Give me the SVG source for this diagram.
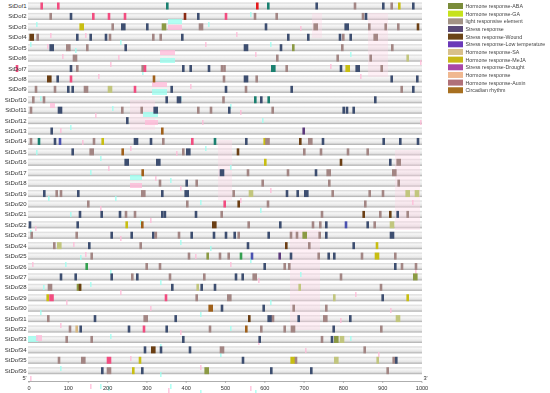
<svg xmlns="http://www.w3.org/2000/svg" xmlns:xlink="http://www.w3.org/1999/xlink" width="550" height="393" viewBox="0 0 550 393">
<style>
text{font-family:"Liberation Sans",Arial,sans-serif;fill:#333}
.lbl{font-size:6px;text-anchor:end}
.ax{font-size:5.6px;text-anchor:middle}
.lg{font-size:5.3px;fill:#444}
.bar{fill:url(#bg)}
.p{fill:#f24d80}.r{fill:#e41a1c}.t{fill:#1a8070}.s{fill:#3d4e70}.m{fill:#a38684}.b{fill:#6b3f14}
.y{fill:#c8be12}.lo{fill:#c2c67e}.og{fill:#8c9a44}.bp{fill:#4a52b0}.pu{fill:#5c3a7c}.bo{fill:#a0601a}
.tn{fill:#d8b880}.g{fill:#34a050}.rb{fill:#8a2a12}
.fp{fill:#ffbcd9;opacity:.8}.fc{fill:#9ffff0;opacity:.8}
.col{fill:#ffd3e4;opacity:.35}
</style>
<defs>
<linearGradient id="bg" x1="0" y1="0" x2="0" y2="1">
<stop offset="0" stop-color="#d6d6d6"/><stop offset=".3" stop-color="#f6f6f6"/><stop offset=".7" stop-color="#e6e6e6"/><stop offset="1" stop-color="#a9a9a9"/>
</linearGradient>
<rect id="n" x="-1.3" y="-3.5" width="2.6" height="7"/>
<rect id="w" x="-2.3" y="-3.5" width="4.6" height="7"/>
<rect id="f" x="0" y="0" width="1.6" height="5"/>
</defs>
<rect width="550" height="393" fill="#fff"/>

<g id="bars">
<rect class="bar" x="28" y="2.5" width="394" height="7"/>
<rect class="bar" x="28" y="12.92" width="394" height="7"/>
<rect class="bar" x="28" y="23.34" width="394" height="7"/>
<rect class="bar" x="28" y="33.76" width="394" height="7"/>
<rect class="bar" x="28" y="44.18" width="394" height="7"/>
<rect class="bar" x="28" y="54.6" width="394" height="7"/>
<rect class="bar" x="28" y="65.02" width="394" height="7"/>
<rect class="bar" x="28" y="75.44" width="394" height="7"/>
<rect class="bar" x="28" y="85.86" width="394" height="7"/>
<rect class="bar" x="28" y="96.28" width="394" height="7"/>
<rect class="bar" x="28" y="106.7" width="394" height="7"/>
<rect class="bar" x="28" y="117.12" width="394" height="7"/>
<rect class="bar" x="28" y="127.54" width="394" height="7"/>
<rect class="bar" x="28" y="137.96" width="394" height="7"/>
<rect class="bar" x="28" y="148.38" width="394" height="7"/>
<rect class="bar" x="28" y="158.8" width="394" height="7"/>
<rect class="bar" x="28" y="169.22" width="394" height="7"/>
<rect class="bar" x="28" y="179.64" width="394" height="7"/>
<rect class="bar" x="28" y="190.06" width="394" height="7"/>
<rect class="bar" x="28" y="200.48" width="394" height="7"/>
<rect class="bar" x="28" y="210.9" width="394" height="7"/>
<rect class="bar" x="28" y="221.32" width="394" height="7"/>
<rect class="bar" x="28" y="231.74" width="394" height="7"/>
<rect class="bar" x="28" y="242.16" width="394" height="7"/>
<rect class="bar" x="28" y="252.58" width="394" height="7"/>
<rect class="bar" x="28" y="263" width="394" height="7"/>
<rect class="bar" x="28" y="273.42" width="394" height="7"/>
<rect class="bar" x="28" y="283.84" width="394" height="7"/>
<rect class="bar" x="28" y="294.26" width="394" height="7"/>
<rect class="bar" x="28" y="304.68" width="394" height="7"/>
<rect class="bar" x="28" y="315.1" width="394" height="7"/>
<rect class="bar" x="28" y="325.52" width="394" height="7"/>
<rect class="bar" x="28" y="335.94" width="394" height="7"/>
<rect class="bar" x="28" y="346.36" width="394" height="7"/>
<rect class="bar" x="28" y="356.78" width="394" height="7"/>
<rect class="bar" x="28" y="367.2" width="394" height="7"/>
</g>

<g id="faint">
<rect class="col" x="218" y="140" width="14" height="60"/>
<rect class="col" x="290" y="230" width="30" height="100"/>
<rect class="col" x="395" y="150" width="25" height="80"/>
<rect class="col" x="130" y="100" width="25" height="30"/>
<rect class="col" x="368" y="13" width="20" height="64"/>
<rect class="col" x="312" y="13" width="10" height="25"/>
<rect class="fp" x="160" y="50" width="15" height="5"/>
<rect class="fc" x="160" y="58" width="15" height="5"/>
<rect class="fp" x="152" y="82" width="15" height="5"/>
<rect class="fc" x="152" y="89" width="15" height="6"/>
<rect class="fc" x="168" y="19" width="14" height="5"/>
<rect class="fp" x="168" y="25" width="14" height="5"/>
<rect class="fp" x="50" y="103" width="5" height="5"/>
<rect class="fc" x="143" y="112" width="15" height="5"/>
<rect class="fp" x="145" y="120" width="13" height="5"/>
<rect class="fc" x="130" y="175" width="12" height="5"/>
<rect class="fp" x="130" y="183" width="12" height="5"/>
<rect class="fc" x="28" y="336" width="10" height="6"/>
<rect class="fp" x="36" y="335" width="6" height="6"/>
<g class="fp">
<use href="#f" x="50" y="33"/><use href="#f" x="85" y="33"/><use href="#f" x="47" y="44"/><use href="#f" x="62" y="54"/><use href="#f" x="110" y="62"/><use href="#f" x="118" y="55"/><use href="#f" x="98" y="74"/><use href="#f" x="190" y="84"/><use href="#f" x="205" y="42"/><use href="#f" x="236" y="32"/><use href="#f" x="255" y="52"/><use href="#f" x="300" y="26"/><use href="#f" x="330" y="64"/><use href="#f" x="360" y="74"/><use href="#f" x="240" y="110"/><use href="#f" x="95" y="113"/><use href="#f" x="202" y="120"/><use href="#f" x="60" y="128"/><use href="#f" x="82" y="140"/><use href="#f" x="130" y="146"/><use href="#f" x="176" y="151"/><use href="#f" x="108" y="166"/><use href="#f" x="155" y="176"/><use href="#f" x="180" y="186"/><use href="#f" x="240" y="198"/><use href="#f" x="270" y="188"/><use href="#f" x="100" y="206"/><use href="#f" x="150" y="218"/><use href="#f" x="35" y="226"/><use href="#f" x="120" y="236"/><use href="#f" x="73" y="242"/><use href="#f" x="85" y="252"/><use href="#f" x="195" y="254"/><use href="#f" x="230" y="262"/><use href="#f" x="32" y="262"/><use href="#f" x="258" y="278"/><use href="#f" x="120" y="290"/><use href="#f" x="355" y="292"/><use href="#f" x="66" y="300"/><use href="#f" x="150" y="306"/><use href="#f" x="390" y="308"/><use href="#f" x="340" y="318"/><use href="#f" x="60" y="323"/><use href="#f" x="180" y="330"/><use href="#f" x="258" y="340"/><use href="#f" x="305" y="348"/><use href="#f" x="378" y="352"/><use href="#f" x="130" y="356"/><use href="#f" x="200" y="365"/><use href="#f" x="30" y="376"/><use href="#f" x="90" y="384"/><use href="#f" x="168" y="388"/><use href="#f" x="250" y="386"/><use href="#f" x="420" y="60"/><use href="#f" x="420" y="120"/><use href="#f" x="412" y="200"/><use href="#f" x="415" y="270"/>
</g>
<g class="fc">
<use href="#f" x="36" y="22"/><use href="#f" x="30" y="42"/><use href="#f" x="75" y="48"/><use href="#f" x="120" y="40"/><use href="#f" x="208" y="22"/><use href="#f" x="250" y="12"/><use href="#f" x="270" y="42"/><use href="#f" x="350" y="52"/><use href="#f" x="142" y="70"/><use href="#f" x="180" y="96"/><use href="#f" x="40" y="96"/><use href="#f" x="112" y="106"/><use href="#f" x="230" y="104"/><use href="#f" x="262" y="118"/><use href="#f" x="70" y="125"/><use href="#f" x="36" y="150"/><use href="#f" x="205" y="146"/><use href="#f" x="100" y="156"/><use href="#f" x="90" y="170"/><use href="#f" x="230" y="165"/><use href="#f" x="170" y="178"/><use href="#f" x="48" y="196"/><use href="#f" x="115" y="196"/><use href="#f" x="200" y="200"/><use href="#f" x="260" y="208"/><use href="#f" x="70" y="212"/><use href="#f" x="140" y="220"/><use href="#f" x="30" y="230"/><use href="#f" x="180" y="240"/><use href="#f" x="210" y="246"/><use href="#f" x="80" y="255"/><use href="#f" x="250" y="258"/><use href="#f" x="65" y="262"/><use href="#f" x="110" y="270"/><use href="#f" x="300" y="272"/><use href="#f" x="43" y="285"/><use href="#f" x="90" y="282"/><use href="#f" x="160" y="280"/><use href="#f" x="270" y="300"/><use href="#f" x="200" y="312"/><use href="#f" x="40" y="310"/><use href="#f" x="230" y="326"/><use href="#f" x="110" y="334"/><use href="#f" x="160" y="344"/><use href="#f" x="350" y="336"/><use href="#f" x="220" y="352"/><use href="#f" x="60" y="366"/><use href="#f" x="160" y="372"/><use href="#f" x="100" y="384"/><use href="#f" x="108" y="386"/><use href="#f" x="170" y="384"/><use href="#f" x="200" y="390"/><use href="#f" x="255" y="390"/>
</g>
</g>

<g id="StDof1" transform="translate(0,6)"><text class="lbl" x="26.5" y="2">StDof1</text>
<use href="#n" x="41.7" class="p"/><use href="#n" x="58.3" class="p"/><use href="#n" x="167.3" class="t"/><use href="#n" x="257.3" class="r"/><use href="#n" x="268.3" class="t"/><use href="#n" x="316.7" class="s"/><use href="#n" x="355" class="m"/><use href="#n" x="383.3" class="s"/><use href="#n" x="391.7" class="m"/><use href="#n" x="399.3" class="y"/><use href="#n" x="413.3" class="s"/></g>
<g id="StDof2" transform="translate(0,16.42)"><text class="lbl" x="26.5" y="2">StDof2</text>
<use href="#n" x="50.7" class="m"/><use href="#n" x="71" class="s"/><use href="#n" x="93.3" class="p"/><use href="#n" x="109" class="p"/><use href="#n" x="125" class="p"/><use href="#n" x="185" class="rb"/><use href="#n" x="198.3" class="s"/><use href="#n" x="226" class="p"/><use href="#n" x="255" class="m"/><use href="#n" x="276.7" class="m"/><use href="#n" x="363" class="m"/><use href="#n" x="366" class="s"/></g>
<g id="StDof3" transform="translate(0,26.84)"><text class="lbl" x="26.5" y="2">StDof3</text>
<use href="#w" x="81.7" class="y"/><use href="#n" x="112.7" class="m"/><use href="#w" x="123.3" class="s"/><use href="#n" x="147.3" class="s"/><use href="#w" x="164" class="og"/><use href="#w" x="201" class="m"/><use href="#n" x="266" class="s"/><use href="#w" x="315.7" class="m"/><use href="#w" x="346.7" class="s"/><use href="#n" x="369.3" class="m"/><use href="#n" x="385.7" class="m"/><use href="#n" x="398.3" class="m"/><use href="#n" x="418" class="b"/></g>
<g id="StDof4" transform="translate(0,37.26)"><text class="lbl" x="26.5" y="2">StDof4</text>
<use href="#w" x="31.7" class="b"/><use href="#n" x="37.7" class="m"/><use href="#n" x="77.3" class="s"/><use href="#n" x="90.7" class="s"/><use href="#n" x="106" class="s"/><use href="#n" x="110" class="m"/><use href="#n" x="153.3" class="m"/><use href="#n" x="160.7" class="m"/><use href="#n" x="182.3" class="s"/><use href="#n" x="288.3" class="s"/><use href="#n" x="308.3" class="s"/><use href="#n" x="340" class="s"/><use href="#n" x="343.3" class="m"/><use href="#n" x="350.7" class="s"/><use href="#w" x="375.7" class="m"/></g>
<g id="StDof5" transform="translate(0,47.68)"><text class="lbl" x="26.5" y="2">StDof5</text>
<use href="#w" x="51.7" class="s"/><use href="#w" x="68.3" class="m"/><use href="#n" x="87.3" class="m"/><use href="#n" x="125.7" class="s"/><use href="#w" x="246" class="s"/><use href="#n" x="281" class="s"/><use href="#n" x="293.3" class="og"/><use href="#n" x="342.3" class="m"/><use href="#n" x="392.3" class="m"/></g>
<g id="StDof6" transform="translate(0,58.1)"><text class="lbl" x="26.5" y="2">StDof6</text>
<use href="#w" x="75" class="m"/><use href="#n" x="277.3" class="m"/><use href="#n" x="337.7" class="m"/><use href="#n" x="370.7" class="m"/><use href="#n" x="407.7" class="lo"/></g>
<g id="StDof7" transform="translate(0,68.52)"><use href="#n" x="17" class="p"/><text class="lbl" x="26.5" y="2">StDof7</text>
<use href="#n" x="71" class="s"/><use href="#n" x="77.3" class="m"/><use href="#n" x="142.7" class="m"/><use href="#n" x="145" class="p"/><use href="#n" x="183.3" class="s"/><use href="#n" x="190.7" class="s"/><use href="#n" x="209" class="s"/><use href="#n" x="222" class="m"/><use href="#n" x="224.5" class="m"/><use href="#w" x="273.3" class="t"/><use href="#n" x="286.7" class="m"/><use href="#n" x="341" class="s"/><use href="#w" x="347.7" class="y"/><use href="#w" x="357.7" class="s"/><use href="#n" x="381.7" class="m"/></g>
<g id="StDof8" transform="translate(0,78.94)"><text class="lbl" x="26.5" y="2">StDof8</text>
<use href="#w" x="49.3" class="b"/><use href="#n" x="57.7" class="s"/><use href="#n" x="71" class="p"/><use href="#n" x="154" class="bo"/><use href="#n" x="224" class="m"/><use href="#w" x="246" class="s"/><use href="#n" x="256.7" class="m"/><use href="#n" x="391.7" class="s"/><use href="#n" x="417.3" class="s"/></g>
<g id="StDof9" transform="translate(0,89.36)"><text class="lbl" x="26.5" y="2">StDof9</text>
<use href="#n" x="36" class="m"/><use href="#n" x="55" class="m"/><use href="#n" x="68.3" class="s"/><use href="#n" x="72.7" class="s"/><use href="#w" x="86" class="m"/><use href="#w" x="110" class="lo"/><use href="#n" x="135" class="p"/><use href="#n" x="171.7" class="s"/><use href="#n" x="226" class="s"/><use href="#n" x="246" class="m"/><use href="#n" x="291.7" class="s"/><use href="#n" x="401.7" class="m"/><use href="#n" x="413.3" class="s"/></g>
<g id="StDof10" transform="translate(0,99.78)"><text class="lbl" x="26.5" y="2">StDof10</text>
<use href="#n" x="33.3" class="m"/><use href="#n" x="44" class="m"/><use href="#n" x="166.7" class="s"/><use href="#w" x="179" class="s"/><use href="#n" x="223.5" class="m"/><use href="#n" x="255.3" class="t"/><use href="#n" x="261.3" class="s"/><use href="#n" x="268.7" class="t"/><use href="#n" x="375.3" class="s"/></g>
<g id="StDof11" transform="translate(0,110.2)"><text class="lbl" x="26.5" y="2">StDof11</text>
<use href="#n" x="31" class="m"/><use href="#w" x="60" class="s"/><use href="#n" x="122.3" class="m"/><use href="#n" x="141.7" class="m"/><use href="#w" x="155.7" class="s"/><use href="#n" x="198.3" class="m"/><use href="#n" x="211" class="m"/><use href="#n" x="229.3" class="s"/><use href="#n" x="272.7" class="m"/><use href="#n" x="343.7" class="s"/><use href="#n" x="347" class="s"/><use href="#n" x="353.7" class="s"/></g>
<g id="StDof12" transform="translate(0,120.62)"><text class="lbl" x="26.5" y="2">StDof12</text>
<use href="#n" x="127.3" class="s"/></g>
<g id="StDof13" transform="translate(0,131.04)"><text class="lbl" x="26.5" y="2">StDof13</text>
<use href="#n" x="51.7" class="s"/><use href="#n" x="162.3" class="bo"/><use href="#n" x="303.7" class="pu"/></g>
<g id="StDof14" transform="translate(0,141.46)"><text class="lbl" x="26.5" y="2">StDof14</text>
<use href="#n" x="31" class="m"/><use href="#n" x="39" class="t"/><use href="#n" x="55" class="s"/><use href="#n" x="60" class="bp"/><use href="#n" x="94" class="m"/><use href="#n" x="102.7" class="y"/><use href="#w" x="136" class="s"/><use href="#n" x="151" class="s"/><use href="#n" x="163.3" class="m"/><use href="#n" x="192.3" class="p"/><use href="#n" x="215" class="t"/><use href="#n" x="246.3" class="s"/><use href="#n" x="264.7" class="y"/><use href="#w" x="267.5" class="m"/><use href="#n" x="300.3" class="b"/><use href="#w" x="310.3" class="m"/><use href="#n" x="323" class="s"/><use href="#n" x="383.7" class="s"/><use href="#n" x="400.3" class="s"/><use href="#n" x="418" class="s"/></g>
<g id="StDof15" transform="translate(0,151.88)"><text class="lbl" x="26.5" y="2">StDof15</text>
<use href="#n" x="72.7" class="s"/><use href="#w" x="91.7" class="m"/><use href="#n" x="122.7" class="bo"/><use href="#n" x="183.3" class="m"/><use href="#w" x="188.3" class="s"/><use href="#n" x="238" class="b"/><use href="#n" x="304.3" class="m"/><use href="#n" x="321" class="m"/><use href="#n" x="348" class="m"/><use href="#n" x="367.7" class="m"/></g>
<g id="StDof16" transform="translate(0,162.3)"><text class="lbl" x="26.5" y="2">StDof16</text>
<use href="#w" x="126.7" class="s"/><use href="#w" x="158.3" class="s"/><use href="#n" x="265.3" class="y"/><use href="#n" x="341" class="b"/><use href="#n" x="390.3" class="s"/><use href="#w" x="398.7" class="m"/></g>
<g id="StDof17" transform="translate(0,172.72)"><text class="lbl" x="26.5" y="2">StDof17</text>
<use href="#n" x="142.7" class="bo"/><use href="#w" x="222" class="s"/><use href="#n" x="248" class="m"/><use href="#n" x="288" class="m"/><use href="#n" x="316" class="s"/><use href="#w" x="328.7" class="m"/><use href="#w" x="394.3" class="m"/></g>
<g id="StDof18" transform="translate(0,183.14)"><text class="lbl" x="26.5" y="2">StDof18</text>
<use href="#n" x="160" class="m"/><use href="#n" x="186.7" class="s"/><use href="#n" x="196.7" class="m"/><use href="#n" x="262.7" class="m"/><use href="#n" x="329.3" class="m"/><use href="#n" x="398.7" class="m"/></g>
<g id="StDof19" transform="translate(0,193.56)"><text class="lbl" x="26.5" y="2">StDof19</text>
<use href="#n" x="44.3" class="s"/><use href="#n" x="56.7" class="m"/><use href="#n" x="61" class="m"/><use href="#n" x="78.3" class="s"/><use href="#w" x="143.3" class="m"/><use href="#n" x="162.3" class="s"/><use href="#w" x="186.7" class="s"/><use href="#n" x="233.7" class="m"/><use href="#w" x="251" class="lo"/><use href="#n" x="287" class="s"/><use href="#n" x="297.7" class="s"/><use href="#w" x="306.3" class="s"/><use href="#n" x="332.7" class="m"/><use href="#n" x="369.7" class="m"/><use href="#n" x="383" class="m"/><use href="#w" x="407.7" class="lo"/><use href="#w" x="417" class="lo"/></g>
<g id="StDof20" transform="translate(0,203.98)"><text class="lbl" x="26.5" y="2">StDof20</text>
<use href="#n" x="88.3" class="m"/><use href="#n" x="187.3" class="m"/><use href="#n" x="224.7" class="p"/><use href="#n" x="238.7" class="b"/><use href="#n" x="268" class="m"/><use href="#n" x="365.3" class="m"/></g>
<g id="StDof21" transform="translate(0,214.4)"><text class="lbl" x="26.5" y="2">StDof21</text>
<use href="#n" x="80" class="s"/><use href="#n" x="101.7" class="s"/><use href="#n" x="120" class="s"/><use href="#n" x="126" class="m"/><use href="#n" x="135" class="m"/><use href="#n" x="162.3" class="s"/><use href="#n" x="164.9" class="s"/><use href="#n" x="196" class="s"/><use href="#n" x="221.7" class="m"/><use href="#n" x="322" class="m"/><use href="#n" x="363.7" class="b"/><use href="#n" x="380.3" class="m"/><use href="#n" x="390.3" class="b"/><use href="#n" x="397.7" class="s"/><use href="#n" x="407.7" class="m"/></g>
<g id="StDof22" transform="translate(0,224.82)"><text class="lbl" x="26.5" y="2">StDof22</text>
<use href="#n" x="30" class="s"/><use href="#n" x="77.7" class="s"/><use href="#n" x="126.7" class="y"/><use href="#n" x="142.3" class="bo"/><use href="#w" x="214.3" class="b"/><use href="#n" x="248.7" class="m"/><use href="#n" x="280.3" class="s"/><use href="#n" x="313" class="m"/><use href="#n" x="320.3" class="m"/><use href="#n" x="326.3" class="s"/><use href="#n" x="346" class="bp"/><use href="#n" x="367.7" class="s"/><use href="#n" x="374.7" class="m"/><use href="#w" x="392" class="lo"/></g>
<g id="StDof23" transform="translate(0,235.24)"><text class="lbl" x="26.5" y="2">StDof23</text>
<use href="#n" x="31.7" class="m"/><use href="#n" x="76.7" class="m"/><use href="#n" x="111.7" class="s"/><use href="#n" x="131.7" class="s"/><use href="#n" x="153.3" class="s"/><use href="#n" x="155.8" class="m"/><use href="#n" x="179" class="m"/><use href="#n" x="191.7" class="s"/><use href="#n" x="214" class="s"/><use href="#n" x="226" class="s"/><use href="#n" x="234.7" class="s"/><use href="#n" x="238.7" class="m"/><use href="#n" x="268.7" class="s"/><use href="#n" x="291" class="m"/><use href="#n" x="297" class="m"/><use href="#w" x="304.7" class="og"/><use href="#n" x="319.7" class="m"/><use href="#n" x="326.3" class="s"/><use href="#w" x="392" class="s"/></g>
<g id="StDof24" transform="translate(0,245.66)"><text class="lbl" x="26.5" y="2">StDof24</text>
<use href="#n" x="54.3" class="m"/><use href="#w" x="59.3" class="lo"/><use href="#n" x="89.3" class="s"/><use href="#n" x="140.7" class="m"/><use href="#n" x="248" class="s"/><use href="#n" x="286.3" class="b"/><use href="#n" x="309.3" class="m"/><use href="#n" x="353.7" class="s"/><use href="#n" x="377" class="y"/></g>
<g id="StDof25" transform="translate(0,256.08)"><text class="lbl" x="26.5" y="2">StDof25</text>
<use href="#n" x="91.7" class="m"/><use href="#n" x="189" class="m"/><use href="#n" x="207.7" class="og"/><use href="#n" x="220" class="m"/><use href="#n" x="228.7" class="m"/><use href="#n" x="241" class="g"/><use href="#n" x="252" class="bp"/><use href="#n" x="279.7" class="pu"/><use href="#n" x="291" class="s"/><use href="#n" x="318.7" class="m"/><use href="#n" x="328.7" class="s"/><use href="#n" x="334.3" class="s"/><use href="#n" x="362" class="m"/><use href="#w" x="377" class="y"/><use href="#n" x="395.3" class="m"/></g>
<g id="StDof26" transform="translate(0,266.5)"><text class="lbl" x="26.5" y="2">StDof26</text>
<use href="#n" x="86.7" class="g"/><use href="#n" x="146.7" class="m"/><use href="#n" x="160" class="m"/><use href="#n" x="264.7" class="s"/><use href="#n" x="284.7" class="m"/><use href="#n" x="289.3" class="m"/><use href="#n" x="395.3" class="s"/><use href="#n" x="402" class="m"/><use href="#n" x="416" class="m"/></g>
<g id="StDof27" transform="translate(0,276.92)"><text class="lbl" x="26.5" y="2">StDof27</text>
<use href="#n" x="61" class="s"/><use href="#n" x="75.7" class="s"/><use href="#n" x="111.7" class="s"/><use href="#n" x="132.3" class="m"/><use href="#n" x="137.3" class="s"/><use href="#n" x="170" class="m"/><use href="#n" x="204.3" class="m"/><use href="#n" x="236" class="s"/><use href="#n" x="242.7" class="s"/><use href="#w" x="254.7" class="m"/><use href="#n" x="341" class="m"/><use href="#w" x="415.3" class="og"/></g>
<g id="StDof28" transform="translate(0,287.34)"><text class="lbl" x="26.5" y="2">StDof28</text>
<use href="#w" x="50" class="m"/><use href="#w" x="79" class="og"/><use href="#n" x="80" class="b"/><use href="#n" x="172.3" class="s"/><use href="#n" x="197.7" class="lo"/><use href="#n" x="201.7" class="s"/><use href="#n" x="215" class="s"/><use href="#n" x="299.7" class="lo"/><use href="#n" x="381" class="m"/></g>
<g id="StDof29" transform="translate(0,297.76)"><text class="lbl" x="26.5" y="2">StDof29</text>
<use href="#n" x="47.7" class="y"/><use href="#w" x="51.5" class="p"/><use href="#n" x="166" class="p"/><use href="#n" x="196.7" class="m"/><use href="#w" x="229.3" class="m"/><use href="#n" x="334.3" class="lo"/><use href="#n" x="382.7" class="s"/><use href="#n" x="407.7" class="y"/></g>
<g id="StDof30" transform="translate(0,308.18)"><text class="lbl" x="26.5" y="2">StDof30</text>
<use href="#w" x="210.7" class="bo"/><use href="#n" x="222" class="s"/><use href="#n" x="263.7" class="s"/><use href="#n" x="293.7" class="m"/><use href="#n" x="326.3" class="m"/></g>
<g id="StDof31" transform="translate(0,318.6)"><text class="lbl" x="26.5" y="2">StDof31</text>
<use href="#n" x="48.3" class="m"/><use href="#n" x="95" class="s"/><use href="#w" x="145.7" class="m"/><use href="#n" x="175.7" class="s"/><use href="#n" x="249.3" class="b"/><use href="#w" x="269.7" class="s"/><use href="#n" x="273" class="m"/><use href="#n" x="298.7" class="s"/><use href="#w" x="325.3" class="m"/><use href="#n" x="350.3" class="s"/><use href="#w" x="398" class="lo"/></g>
<g id="StDof32" transform="translate(0,329.02)"><text class="lbl" x="26.5" y="2">StDof32</text>
<use href="#n" x="70" class="m"/><use href="#n" x="76.7" class="tn"/><use href="#n" x="80.7" class="s"/><use href="#n" x="129" class="s"/><use href="#n" x="144" class="p"/><use href="#n" x="166.7" class="s"/><use href="#n" x="210" class="m"/><use href="#n" x="246.3" class="bo"/><use href="#n" x="261.3" class="m"/><use href="#n" x="284.7" class="m"/><use href="#w" x="293" class="m"/><use href="#n" x="333.7" class="s"/><use href="#n" x="381.3" class="m"/></g>
<g id="StDof33" transform="translate(0,339.44)"><text class="lbl" x="26.5" y="2">StDof33</text>
<use href="#n" x="66.7" class="m"/><use href="#n" x="91.7" class="m"/><use href="#n" x="183.3" class="s"/><use href="#n" x="259.7" class="s"/><use href="#n" x="322" class="m"/><use href="#n" x="332" class="s"/><use href="#w" x="336.3" class="og"/><use href="#w" x="342" class="lo"/></g>
<g id="StDof34" transform="translate(0,349.86)"><text class="lbl" x="26.5" y="2">StDof34</text>
<use href="#n" x="145" class="s"/><use href="#w" x="153.3" class="b"/><use href="#n" x="161" class="s"/><use href="#n" x="190" class="s"/><use href="#w" x="222" class="m"/><use href="#n" x="364.7" class="m"/></g>
<g id="StDof35" transform="translate(0,360.28)"><text class="lbl" x="26.5" y="2">StDof35</text>
<use href="#n" x="59" class="m"/><use href="#w" x="83.3" class="m"/><use href="#w" x="109" class="p"/><use href="#n" x="140" class="y"/><use href="#n" x="243" class="s"/><use href="#w" x="292.7" class="y"/><use href="#n" x="296" class="m"/><use href="#w" x="336.3" class="lo"/><use href="#n" x="377.7" class="lo"/><use href="#n" x="393.7" class="m"/><use href="#n" x="396.3" class="s"/></g>
<g id="StDof36" transform="translate(0,370.7)"><text class="lbl" x="26.5" y="2">StDof36</text>
<use href="#n" x="102.3" class="s"/><use href="#w" x="109" class="m"/><use href="#n" x="133.3" class="y"/><use href="#n" x="142.3" class="s"/><use href="#w" x="206.7" class="og"/><use href="#n" x="271.3" class="s"/><use href="#n" x="311.3" class="s"/><use href="#n" x="387.7" class="m"/></g>

<g id="axis">
<line x1="28" y1="381.5" x2="422" y2="381.5" stroke="#777" stroke-width="0.6"/>
<g stroke="#777" stroke-width="0.5">
<line x1="29" y1="381.5" x2="29" y2="383"/><line x1="68.3" y1="381.5" x2="68.3" y2="383"/><line x1="107.6" y1="381.5" x2="107.6" y2="383"/><line x1="146.9" y1="381.5" x2="146.9" y2="383"/><line x1="186.2" y1="381.5" x2="186.2" y2="383"/><line x1="225.5" y1="381.5" x2="225.5" y2="383"/><line x1="264.8" y1="381.5" x2="264.8" y2="383"/><line x1="304.1" y1="381.5" x2="304.1" y2="383"/><line x1="343.4" y1="381.5" x2="343.4" y2="383"/><line x1="382.7" y1="381.5" x2="382.7" y2="383"/><line x1="422" y1="381.5" x2="422" y2="383"/>
</g>
<text class="ax" x="29" y="389.5">0</text><text class="ax" x="68.3" y="389.5">100</text><text class="ax" x="107.6" y="389.5">200</text><text class="ax" x="146.9" y="389.5">300</text><text class="ax" x="186.2" y="389.5">400</text><text class="ax" x="225.5" y="389.5">500</text><text class="ax" x="264.8" y="389.5">600</text><text class="ax" x="304.1" y="389.5">700</text><text class="ax" x="343.4" y="389.5">800</text><text class="ax" x="382.7" y="389.5">900</text><text class="ax" x="422" y="389.5">1000</text>
<text class="ax" x="24.5" y="380">5'</text><text class="ax" x="425.5" y="380">3'</text>
</g>

<g id="legend">
<rect x="448" y="3" width="15" height="6" fill="#7a8c3a"/><text class="lg" x="465.5" y="8">Hormone response-ABA</text>
<rect x="448" y="10.66" width="15" height="6" fill="#c6e21c"/><text class="lg" x="465.5" y="15.66">Hormone response-GA</text>
<rect x="448" y="18.32" width="15" height="6" fill="#a29284"/><text class="lg" x="465.5" y="23.32">light responsive element</text>
<rect x="448" y="25.98" width="15" height="6" fill="#5a4a78"/><text class="lg" x="465.5" y="30.98">Stress response</text>
<rect x="448" y="33.64" width="15" height="6" fill="#6a4418"/><text class="lg" x="465.5" y="38.64">Stress response-Wound</text>
<rect x="448" y="41.3" width="15" height="6" fill="#6a38b8"/><text class="lg" x="465.5" y="46.3">Stress response-Low temperature</text>
<rect x="448" y="48.96" width="15" height="6" fill="#d8c08a"/><text class="lg" x="465.5" y="53.96">Hormone response-SA</text>
<rect x="448" y="56.62" width="15" height="6" fill="#c8b818"/><text class="lg" x="465.5" y="61.62">Hormone response-MeJA</text>
<rect x="448" y="64.28" width="15" height="6" fill="#a848a8"/><text class="lg" x="465.5" y="69.28">Stress response-Drought</text>
<rect x="448" y="71.94" width="15" height="6" fill="#f0b890"/><text class="lg" x="465.5" y="76.94">Hormone response</text>
<rect x="448" y="79.6" width="15" height="6" fill="#b07078"/><text class="lg" x="465.5" y="84.6">Hormone response-Auxin</text>
<rect x="448" y="87.26" width="15" height="6" fill="#a87020"/><text class="lg" x="465.5" y="92.26">Circadian rhythm</text>
</g>
</svg>
